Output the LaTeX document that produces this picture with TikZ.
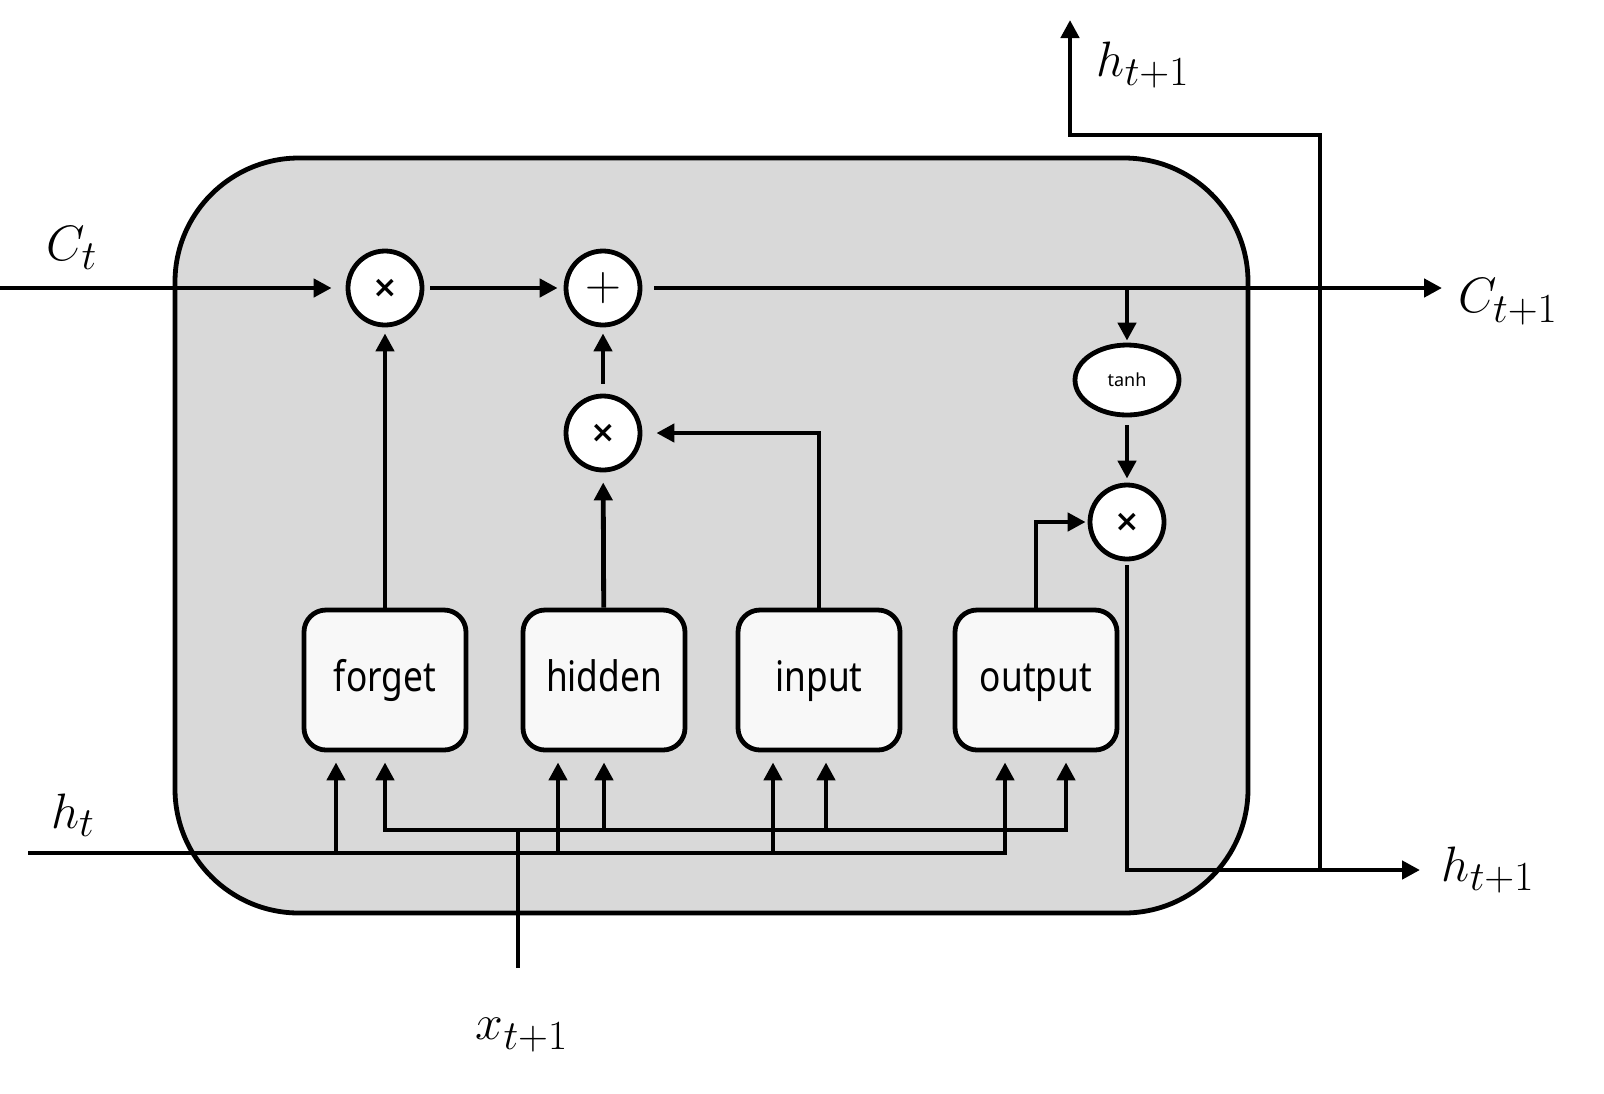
\documentclass[tikz,border=0pt]{standalone}
\usepackage{fontspec}
\setsansfont{Noto Sans}
\newfontfamily\gatefont[FakeStretch=0.84]{Noto Sans}
\newfontfamily\opfont{DejaVu Sans}
\usetikzlibrary{arrows.meta,shapes.geometric}
\DeclareMathSizes{26}{26}{20}{15}
\definecolor{cellgray}{HTML}{D9D9D9}
\definecolor{gatewhite}{HTML}{F8F8F8}
\begin{document}
\begin{tikzpicture}[x=0.5pt,y=-0.5pt,line width=2.4pt,
  arr/.style={-{Triangle[length=9pt,width=9pt]},shorten >=3pt},
  op/.style={circle,draw,fill=white,minimum size=37pt,inner sep=0pt},
  times/.style={op,font=\opfont\bfseries\fontsize{15}{15}\selectfont},
  gate/.style={rectangle,draw,fill=gatewhite,rounded corners=11pt,minimum width=81pt,minimum height=70pt,text height=15pt,text depth=4pt,font=\gatefont\fontsize{21}{25}\selectfont},
  lbl/.style={font=\fontsize{26}{30}\selectfont}]
\useasboundingbox (0,0) rectangle (1604,1093);
% cell body
\draw[fill=cellgray,rounded corners=62pt] (175,158) rectangle (1248,913);
% operations
\node[times] (m1) at (385,288) {×};
\node[op,font=\fontsize{24}{24}\selectfont] (add) at (603,288) {$+$};
\node[times] (m2) at (603,433) {×};
\node[ellipse,draw,fill=white,minimum width=52pt,minimum height=35pt,inner sep=0pt,font=\sffamily\fontsize{9}{10}\selectfont] (th) at (1127,380) {tanh};
\node[times] (m3) at (1127,522) {×};
% gates
\node[gate] (forget) at (385,680) {forget};
\node[gate] (hidden) at (604,680) {hidden};
\node[gate] (input) at (819,680) {input};
\node[gate] (output) at (1036,680) {output};
% labels
\node[lbl] (Ct) at (72,248) {$C_t$};
\node[lbl] (Ct1) at (1508,302) {$C_{t+1}$};
\node[lbl] (ht) at (73,815) {$h_t$};
\node[lbl] (xt1) at (522,1035) {$x_{t+1}$};
\node[lbl] (htop) at (1143,65) {$h_{t+1}$};
\node[lbl] (hright) at (1488,870) {$h_{t+1}$};
% cell state
\coordinate (cin) at (0,288);
\coordinate (cout) at (1442,288);
\coordinate (ctap) at (1127,288);
\draw[arr,shorten >=7pt] (cin) -- (m1);
\draw[arr,shorten <=3pt] (m1) -- (add);
\draw[arr,shorten <=6pt,shorten >=0pt] (add) -- (cout);
\draw[arr,shorten >=1pt] (ctap) -- (th);
\draw[arr,shorten <=4pt,shorten >=2pt] (th) -- (m3);
% gate outputs
\draw[arr] (forget) -- (m1);
\draw[arr,shorten >=5pt] (hidden) -- (m2);
\draw[arr,shorten <=5pt] (m2) -- (add);
\draw[arr,shorten >=7pt] (input) |- (m2);
\draw[arr,shorten >=1pt] (output) |- (m3);
% hidden state out
\coordinate (hout) at (1420,870);
\coordinate (hsplit) at (1320,870);
\coordinate (hbend) at (1320,135);
\coordinate (hup) at (1070,20);
\draw[arr,shorten <=2pt,shorten >=0pt] (m3) |- (hout);
\draw[arr,shorten >=0pt] (hsplit) -- (hbend) -| (hup);
% inputs h_t and x_{t+1}
\coordinate (hin) at (28,853);
\coordinate (f1) at (336,853);
\coordinate (h1) at (558,853);
\coordinate (i1) at (773,853);
\coordinate (o1) at (1005,853);
\coordinate (xin) at (518,968);
\coordinate (xj) at (518,830);
\coordinate (f2) at (385,830);
\coordinate (h2) at (604,830);
\coordinate (i2) at (826,830);
\coordinate (o2) at (1066,830);
\draw[arr,shorten >=5pt] (hin) -- (o1) -- (o1 |- output.south);
\foreach \c/\g in {f1/forget,h1/hidden,i1/input}
  \draw[arr,shorten >=5pt] (\c) -- (\c |- \g.south);
\draw (xin) -- (xj);
\draw[arr,shorten >=5pt] (xj) -- (f2) -- (f2 |- forget.south);
\draw[arr,shorten >=5pt] (xj) -- (o2) -- (o2 |- output.south);
\foreach \c/\g in {h2/hidden,i2/input}
  \draw[arr,shorten >=5pt] (\c) -- (\c |- \g.south);
\end{tikzpicture}
\end{document}
